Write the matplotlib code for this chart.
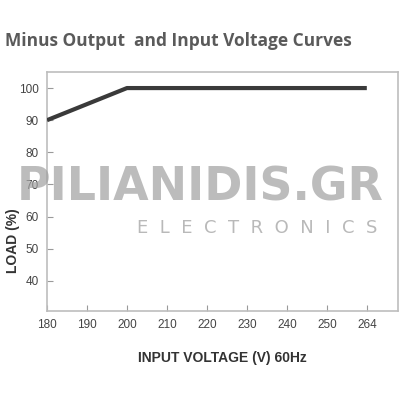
import matplotlib
matplotlib.use("Agg")
from matplotlib import pyplot as plt

# tick labels along the voltage axis (evenly spaced, last one is 264)
voltage_ticks = ["180", "190", "200", "210", "220", "230", "240", "250", "264"]
load_ticks = [40, 50, 60, 70, 80, 90, 100]

# derating curve
voltage = ["180", "200", "264"]
load = [90, 100, 100]

fig = plt.figure(figsize=(4, 4), dpi=100)
ax = fig.add_axes([0.1175, 0.2225, 0.8775, 0.5975])

xpos = [voltage_ticks.index(v) for v in voltage]
ax.plot(xpos, load, color="#3a3a3a", linewidth=3.0, solid_capstyle="butt", zorder=3)

ax.set_xlim(0, 8.78)
ax.set_ylim(30.6, 105)
ax.set_xticks(range(len(voltage_ticks)))
ax.set_xticklabels(voltage_ticks)
ax.set_yticks(load_ticks)

for s in ax.spines.values():
    s.set_color("#bdbdbd")
    s.set_linewidth(1.2)
ax.tick_params(direction="in", length=4, width=0.8, color="#9a9a9a",
               labelsize=8.5, labelcolor="#444444", pad=6)
for lab in ax.get_xticklabels() + ax.get_yticklabels():
    lab.set_family("Liberation Sans")

# watermark
fig.text(0.5, 0.53, "PILIANIDIS.GR", ha="center", va="center", fontsize=33,
         fontweight="bold", color="#a0a0a0", alpha=0.7, family="DejaVu Sans",
         zorder=5)
fig.text(0.643, 0.43, "E  L  E  C  T  R  O  N  I  C  S", ha="center", va="center",
         fontsize=13, color="#a8a8a8", alpha=0.8, family="DejaVu Sans", zorder=5)

fig.text(0.012, 0.898, "Minus Output  and Input Voltage Curves", ha="left", va="center",
         fontsize=12.5, fontweight="bold", color="#5a5a5a", family="Open Sans")
fig.text(0.555, 0.105, "INPUT VOLTAGE (V) 60Hz", ha="center", va="center",
         fontsize=10, fontweight="bold", color="#333333", family="Liberation Sans")
fig.text(0.032, 0.398, "LOAD (%)", ha="center", va="center", rotation=90,
         fontsize=10, fontweight="bold", color="#333333", family="Liberation Sans")

fig.savefig("out.png", dpi=100, facecolor="white")
